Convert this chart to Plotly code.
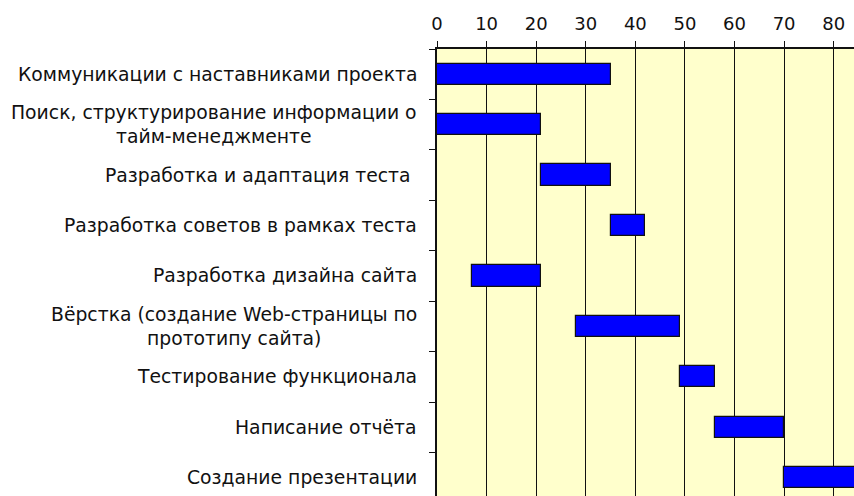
import plotly.graph_objects as go

# Project stages (top to bottom) with start and end points on the timeline
tasks = [
    "Коммуникации с наставниками проекта",
    "Поиск, структурирование информации о<br>тайм-менеджменте",
    "Разработка и адаптация теста ",
    "Разработка советов в рамках теста",
    "Разработка дизайна сайта",
    "Вёрстка (создание Web-страницы по<br>прототипу сайта)",
    "Тестирование функционала",
    "Написание отчёта",
    "Создание презентации",
]
starts = [0, 0, 21, 35, 7, 28, 49, 56, 70]
ends = [35, 21, 35, 42, 21, 49, 56, 70, 85]

x_ticks = [0, 10, 20, 30, 40, 50, 60, 70, 80]

positions = list(range(len(tasks)))
durations = [e - s for s, e in zip(starts, ends)]

FONT = "DejaVu Sans, Verdana, sans-serif"

fig = go.Figure(
    go.Bar(
        y=positions,
        x=durations,
        base=starts,
        orientation="h",
        width=0.42,
        marker=dict(color="#0000FF", line=dict(color="#111111", width=1.2)),
        hoverinfo="skip",
    )
)

# Task names, right-aligned against the plot edge, multi-line names centred
for pos, name in zip(positions, tasks):
    fig.add_annotation(
        x=0, xref="paper", y=pos, yref="y",
        text=name, showarrow=False,
        xanchor="right", yanchor="middle", align="center",
        xshift=-18,
        font=dict(family=FONT, size=18.8, color="#111111"),
    )

fig.update_layout(
    width=854, height=496,
    margin=dict(l=437, r=0, t=49, b=0),
    paper_bgcolor="white",
    plot_bgcolor="#FFFFCC",
    showlegend=False,
    bargap=0,
)

fig.update_xaxes(
    side="top",
    range=[0, 84.1],
    tickvals=x_ticks,
    ticks="outside", ticklen=6, tickcolor="#111111", tickwidth=1,
    ticklabelstandoff=4,
    showgrid=True, gridcolor="#111111", gridwidth=1,
    showline=True, linecolor="#111111", linewidth=1.5,
    zeroline=False,
    tickfont=dict(family=FONT, size=18, color="#111111"),
)

fig.update_yaxes(
    range=[len(tasks) - 0.5 - 0.137, -0.5],
    tickvals=[p - 0.5 for p in positions],
    ticks="outside", ticklen=6, tickcolor="#111111", tickwidth=1,
    showticklabels=False,
    showgrid=False, zeroline=False,
    showline=True, linecolor="#111111", linewidth=1.5,
)

fig.write_html("out.html")
